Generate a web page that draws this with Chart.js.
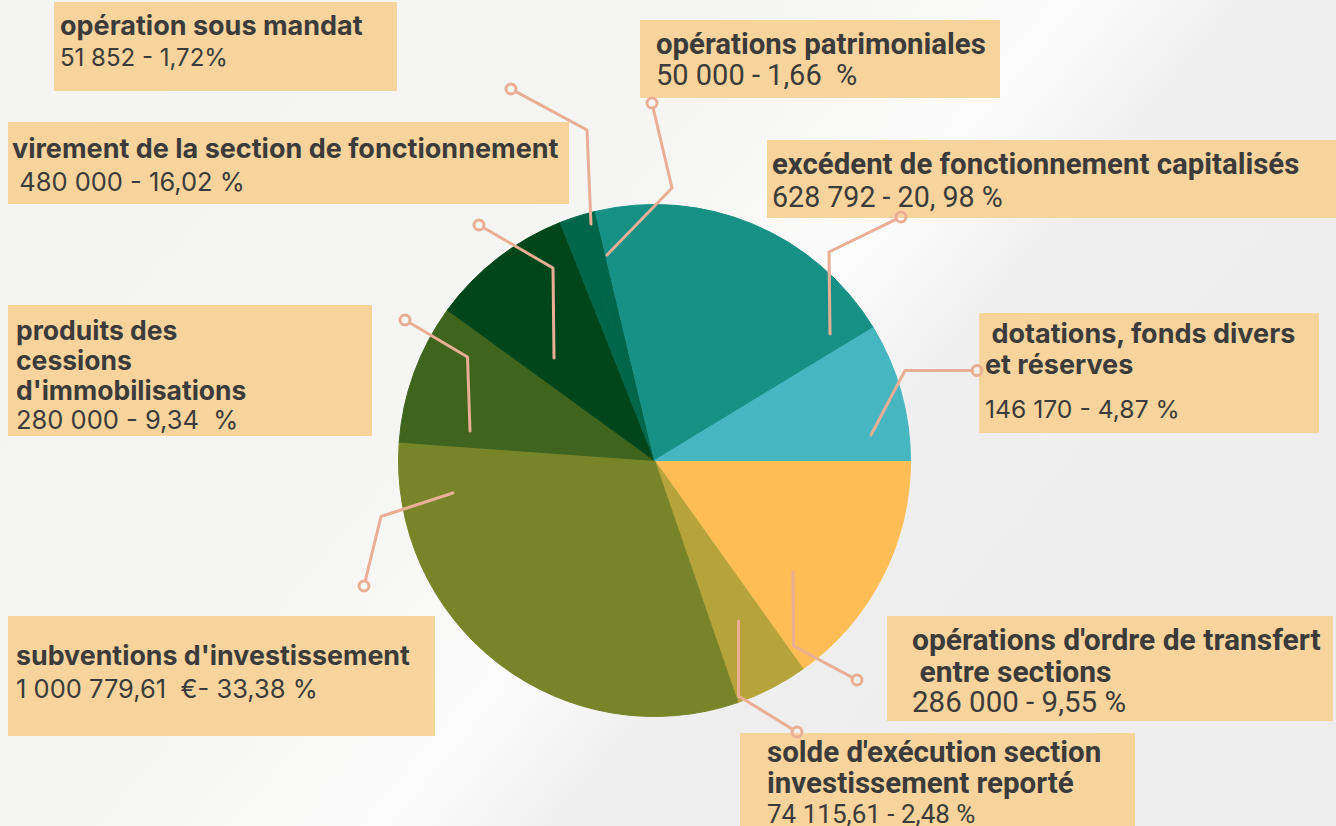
<!DOCTYPE html>
<html lang="fr">
<head>
<meta charset="utf-8">
<title>Recettes d'investissement</title>
<script src="https://cdn.jsdelivr.net/npm/chart.js@4.4.0/dist/chart.umd.min.js"></script>
<style>
    html, body { margin: 0; padding: 0; }
    body {
        width: 1336px; height: 826px; overflow: hidden; position: relative;
        background: linear-gradient(130deg, #f4f4f2 0%, #f5f5f3 38%, #fcfcfc 53%, #efefef 62%, #ededed 100%);
        color: #3b3b3b;
    }
    .box { position: absolute; background: #f8d49d; box-sizing: border-box; white-space: pre; }
    .box div { line-height: var(--lh); }
    .box .t { font-weight: 700; }
    #pie { position: absolute; left: 0; top: 0; }
</style>
</head>
<body>
<div id="labels"></div>
<canvas id="pie" width="1336" height="826"></canvas>
<script>
// slices in drawing order, clockwise from 3 o'clock
const categories = [
    "opérations d'ordre de transfert\n entre sections",
    "solde d'exécution section\ninvestissement reporté",
    "subventions d'investissement",
    "produits des\ncessions\nd'immobilisations",
    "virement de la section de fonctionnement",
    "opération sous mandat",
    "opérations patrimoniales",
    "excédent de fonctionnement capitalisés",
    " dotations, fonds divers\net réserves"
];
const amountLabels = [
    "286 000 - 9,55 %",
    "74 115,61 - 2,48 %",
    "1 000 779,61  €- 33,38 %",
    "280 000 - 9,34  %",
    " 480 000 - 16,02 %",
    "51 852 - 1,72%",
    "50 000 - 1,66  %",
    "628 792 - 20, 98 %",
    "146 170 - 4,87 %"
];
// share of the circle taken by each slice (%)
const sliceShares = [15.14, 4.58, 31.42, 8.86, 9.00, 1.17, 1.11, 20.03, 8.69];
const sliceColors = ['#ffbe55', '#b6a33a', '#788428', '#3e641e', '#00461a', '#00664a', '#00664a', '#179186', '#46b6c1'];

// label boxes (same order as categories)
const boxes = [
    { x: 887, y: 616, w: 446, h: 105, px: 25, pt: 8,   lh: 31.5, gap: 0,  font: 'Roboto', ts: 30,   vs: 29.5 },
    { x: 740, y: 733, w: 395, h: 100, px: 27, pt: 3.5, lh: 31,   gap: 0,  font: 'Roboto', ts: 29.5, vs: 26 },
    { x: 8,   y: 616, w: 427, h: 120, px: 8,  pt: 22,  lh: 34,   gap: 0,  font: 'Inter',  ts: 26.8, vs: 25.5 },
    { x: 8,   y: 305, w: 364, h: 131, px: 8,  pt: 10,  lh: 30,   gap: 0,  font: 'Inter',  ts: 26.5, vs: 25.5 },
    { x: 8,   y: 122, w: 561, h: 82,  px: 4,  pt: 9.5, lh: 33,   gap: 0,  font: 'Inter',  ts: 27,   vs: 25.5 },
    { x: 54,  y: 2,   w: 343, h: 89,  px: 6,  pt: 8,   lh: 32,   gap: 0,  font: 'Inter',  ts: 27,   vs: 24 },
    { x: 640, y: 20,  w: 360, h: 78,  px: 16, pt: 8.5, lh: 31,   gap: 0,  font: 'Roboto', ts: 29.4, vs: 29 },
    { x: 767, y: 140, w: 569, h: 78,  px: 5,  pt: 7.5, lh: 33,   gap: 0,  font: 'Roboto', ts: 29.4, vs: 28.6 },
    { x: 979, y: 313, w: 340, h: 120, px: 6,  pt: 4.5, lh: 31,   gap: 14, font: 'Inter',  ts: 27,   vs: 24.7 }
];

// leader lines: ring first, then bends, then the end inside the slice (offsets from the pie centre)
const leaders = [
    [[202.5, 219.5], [139, 185.5], [138.5, 111.5]],
    [[142.5, 271.5], [84, 235.5], [84, 160.5]],
    [[-290.5, 125.5], [-273.5, 56], [-201.5, 32.5]],
    [[-249.5, -140.5], [-187, -103.5], [-184.5, -29.5]],
    [[-175.5, -235.5], [-101.5, -192.5], [-100.5, -102.5]],
    [[-143.5, -371.5], [-67.5, -330.5], [-63.5, -236.5]],
    [[-2.5, -357.5], [17.5, -272.5], [-47.5, -205.5]],
    [[246.5, -243.5], [174.5, -208.5], [175.5, -126.5]],
    [[322.5, -90], [250.5, -90], [216.5, -25.5]]
];

function buildLabels() {
    const holder = document.getElementById('labels');
    boxes.forEach((b, i) => {
        const el = document.createElement('div');
        el.className = 'box';
        Object.assign(el.style, {
            left: b.x + 'px', top: b.y + 'px', width: b.w + 'px', height: b.h + 'px',
            paddingLeft: b.px + 'px', paddingTop: b.pt + 'px',
            fontFamily: b.font + ', sans-serif'
        });
        el.style.setProperty('--lh', b.lh + 'px');
        categories[i].split('\n').forEach(line => {
            const t = document.createElement('div');
            t.className = 't';
            t.textContent = line;
            t.style.fontSize = b.ts + 'px';
            el.appendChild(t);
        });
        const v = document.createElement('div');
        v.textContent = amountLabels[i];
        v.style.fontSize = b.vs + 'px';
        v.style.marginTop = b.gap + 'px';
        el.appendChild(v);
        holder.appendChild(el);
    });
}

const leaderPlugin = {
    id: 'leaders',
    afterDraw(chart) {
        const arc = chart.getDatasetMeta(0).data[0];
        const cx = arc.x, cy = arc.y;
        const ctx = chart.ctx;
        const r = 5;
        ctx.save();
        ctx.strokeStyle = '#eaae95';
        ctx.lineWidth = 3;
        ctx.lineJoin = 'round';
        ctx.lineCap = 'round';
        leaders.forEach(pts => {
            const p = pts.map(([dx, dy]) => [cx + dx, cy + dy]);
            const [x0, y0] = p[0];
            const d = Math.hypot(p[1][0] - x0, p[1][1] - y0);
            ctx.beginPath();
            ctx.moveTo(x0 + (p[1][0] - x0) / d * r, y0 + (p[1][1] - y0) / d * r);
            for (let k = 1; k < p.length; k++) ctx.lineTo(p[k][0], p[k][1]);
            ctx.stroke();
            ctx.beginPath();
            ctx.arc(x0, y0, r, 0, Math.PI * 2);
            ctx.stroke();
        });
        ctx.restore();
    }
};

function drawPie() {
    const ctx = document.getElementById('pie').getContext('2d');
    new Chart(ctx, {
        type: 'pie',
        data: {
            labels: categories,
            datasets: [{
                data: sliceShares,
                backgroundColor: sliceColors,
                borderColor: sliceColors,
                borderWidth: 1
            }]
        },
        options: {
            responsive: false,
            animation: false,
            devicePixelRatio: 1,
            rotation: 90,
            layout: { padding: { left: 398, right: 425, top: 204, bottom: 109 } },
            plugins: {
                legend: { display: false },
                tooltip: { enabled: false }
            }
        },
        plugins: [leaderPlugin]
    });
}

document.addEventListener('DOMContentLoaded', () => {
    buildLabels();
    drawPie();
});
</script>
</body>
</html>
